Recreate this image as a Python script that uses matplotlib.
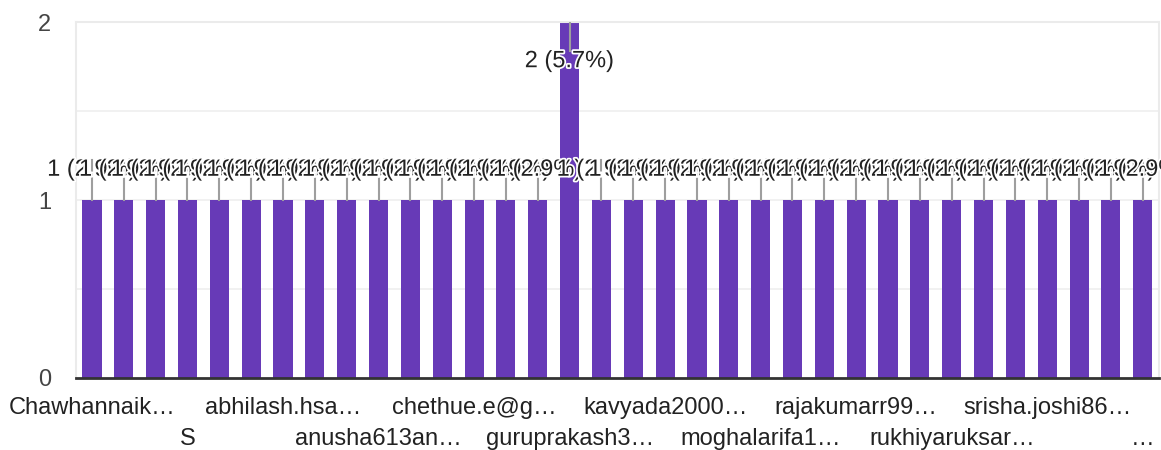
import numpy as np
import matplotlib
matplotlib.use("Agg")
import matplotlib.pyplot as plt
import matplotlib.patheffects as pe

plt.rcParams['font.family'] = ['Liberation Sans', 'DejaVu Sans']

# responses per person (34 categories, one of them answered twice)
counts = [1, 1, 1, 1, 1, 1, 1, 1, 1, 1, 1, 1, 1, 1, 1, 2, 1,
          1, 1, 1, 1, 1, 1, 1, 1, 1, 1, 1, 1, 1, 1, 1, 1, 1]
# only every third category label is shown on the axis
shown_idx = [0, 3, 6, 9, 12, 15, 18, 21, 24, 27, 30, 33]
shown_labels = ["Chawhannaik…", "S", "abhilash.hsa…", "anusha613an…",
                "chethue.e@g…", "guruprakash3…", "kavyada2000…", "moghalarifa1…",
                "rajakumarr99…", "rukhiyaruksar…", "srisha.joshi86…", "…"]

purple = "#673ab7"
total = sum(counts)
x = np.arange(len(counts))

fig = plt.figure(figsize=(11.61, 4.5), dpi=100)
ax = fig.add_axes([0.0655, 0.16, 0.9325, 0.791])

# grid
for g in [0.5, 1.0, 1.5]:
    ax.axhline(g, color="#efefef", lw=1.2, zorder=0)

ax.bar(x, counts, width=0.6, color=purple, zorder=2)

ax.set_xlim(-0.5, len(counts) - 0.5)
ax.set_ylim(0, 2)

# value labels with leader lines
halo = [pe.withStroke(linewidth=2.5, foreground="white")]
for i, c in enumerate(counts):
    ly = 1.17 if c == 1 else 1.78
    if c == 1:
        ax.plot([i, i], [c, ly + 0.055], color="#9e9e9e", lw=1.5, zorder=3)
    else:
        ax.plot([i, i], [c, ly + 0.06], color="#9e9e9e", lw=1.5, zorder=3)
for i, c in enumerate(counts):
    ly = 1.17 if c == 1 else 1.78
    ax.text(i, ly, f"{c} ({c / total * 100:.1f}%)", ha="center", va="center",
            fontsize=17, color="#222222", path_effects=halo, zorder=4)

ax.set_yticks([0, 1, 2])
ax.set_yticklabels(["0", "1", "2"], fontsize=17, color="#444444")
ax.tick_params(axis="y", length=0, pad=18)

labels = [lab if k % 2 == 0 else "\n" + lab for k, lab in enumerate(shown_labels)]
ax.set_xticks(shown_idx)
ax.set_xticklabels(labels, fontsize=17, color="#222222", linespacing=1.5)
ax.tick_params(axis="x", length=0, pad=14)

for s in ["left", "top", "right"]:
    ax.spines[s].set_color("#ebebeb")
    ax.spines[s].set_linewidth(1.5)
ax.spines["bottom"].set_color("#333333")
ax.spines["bottom"].set_linewidth(2)
ax.spines["bottom"].set_zorder(5)

fig.savefig("out.png", dpi=100)
